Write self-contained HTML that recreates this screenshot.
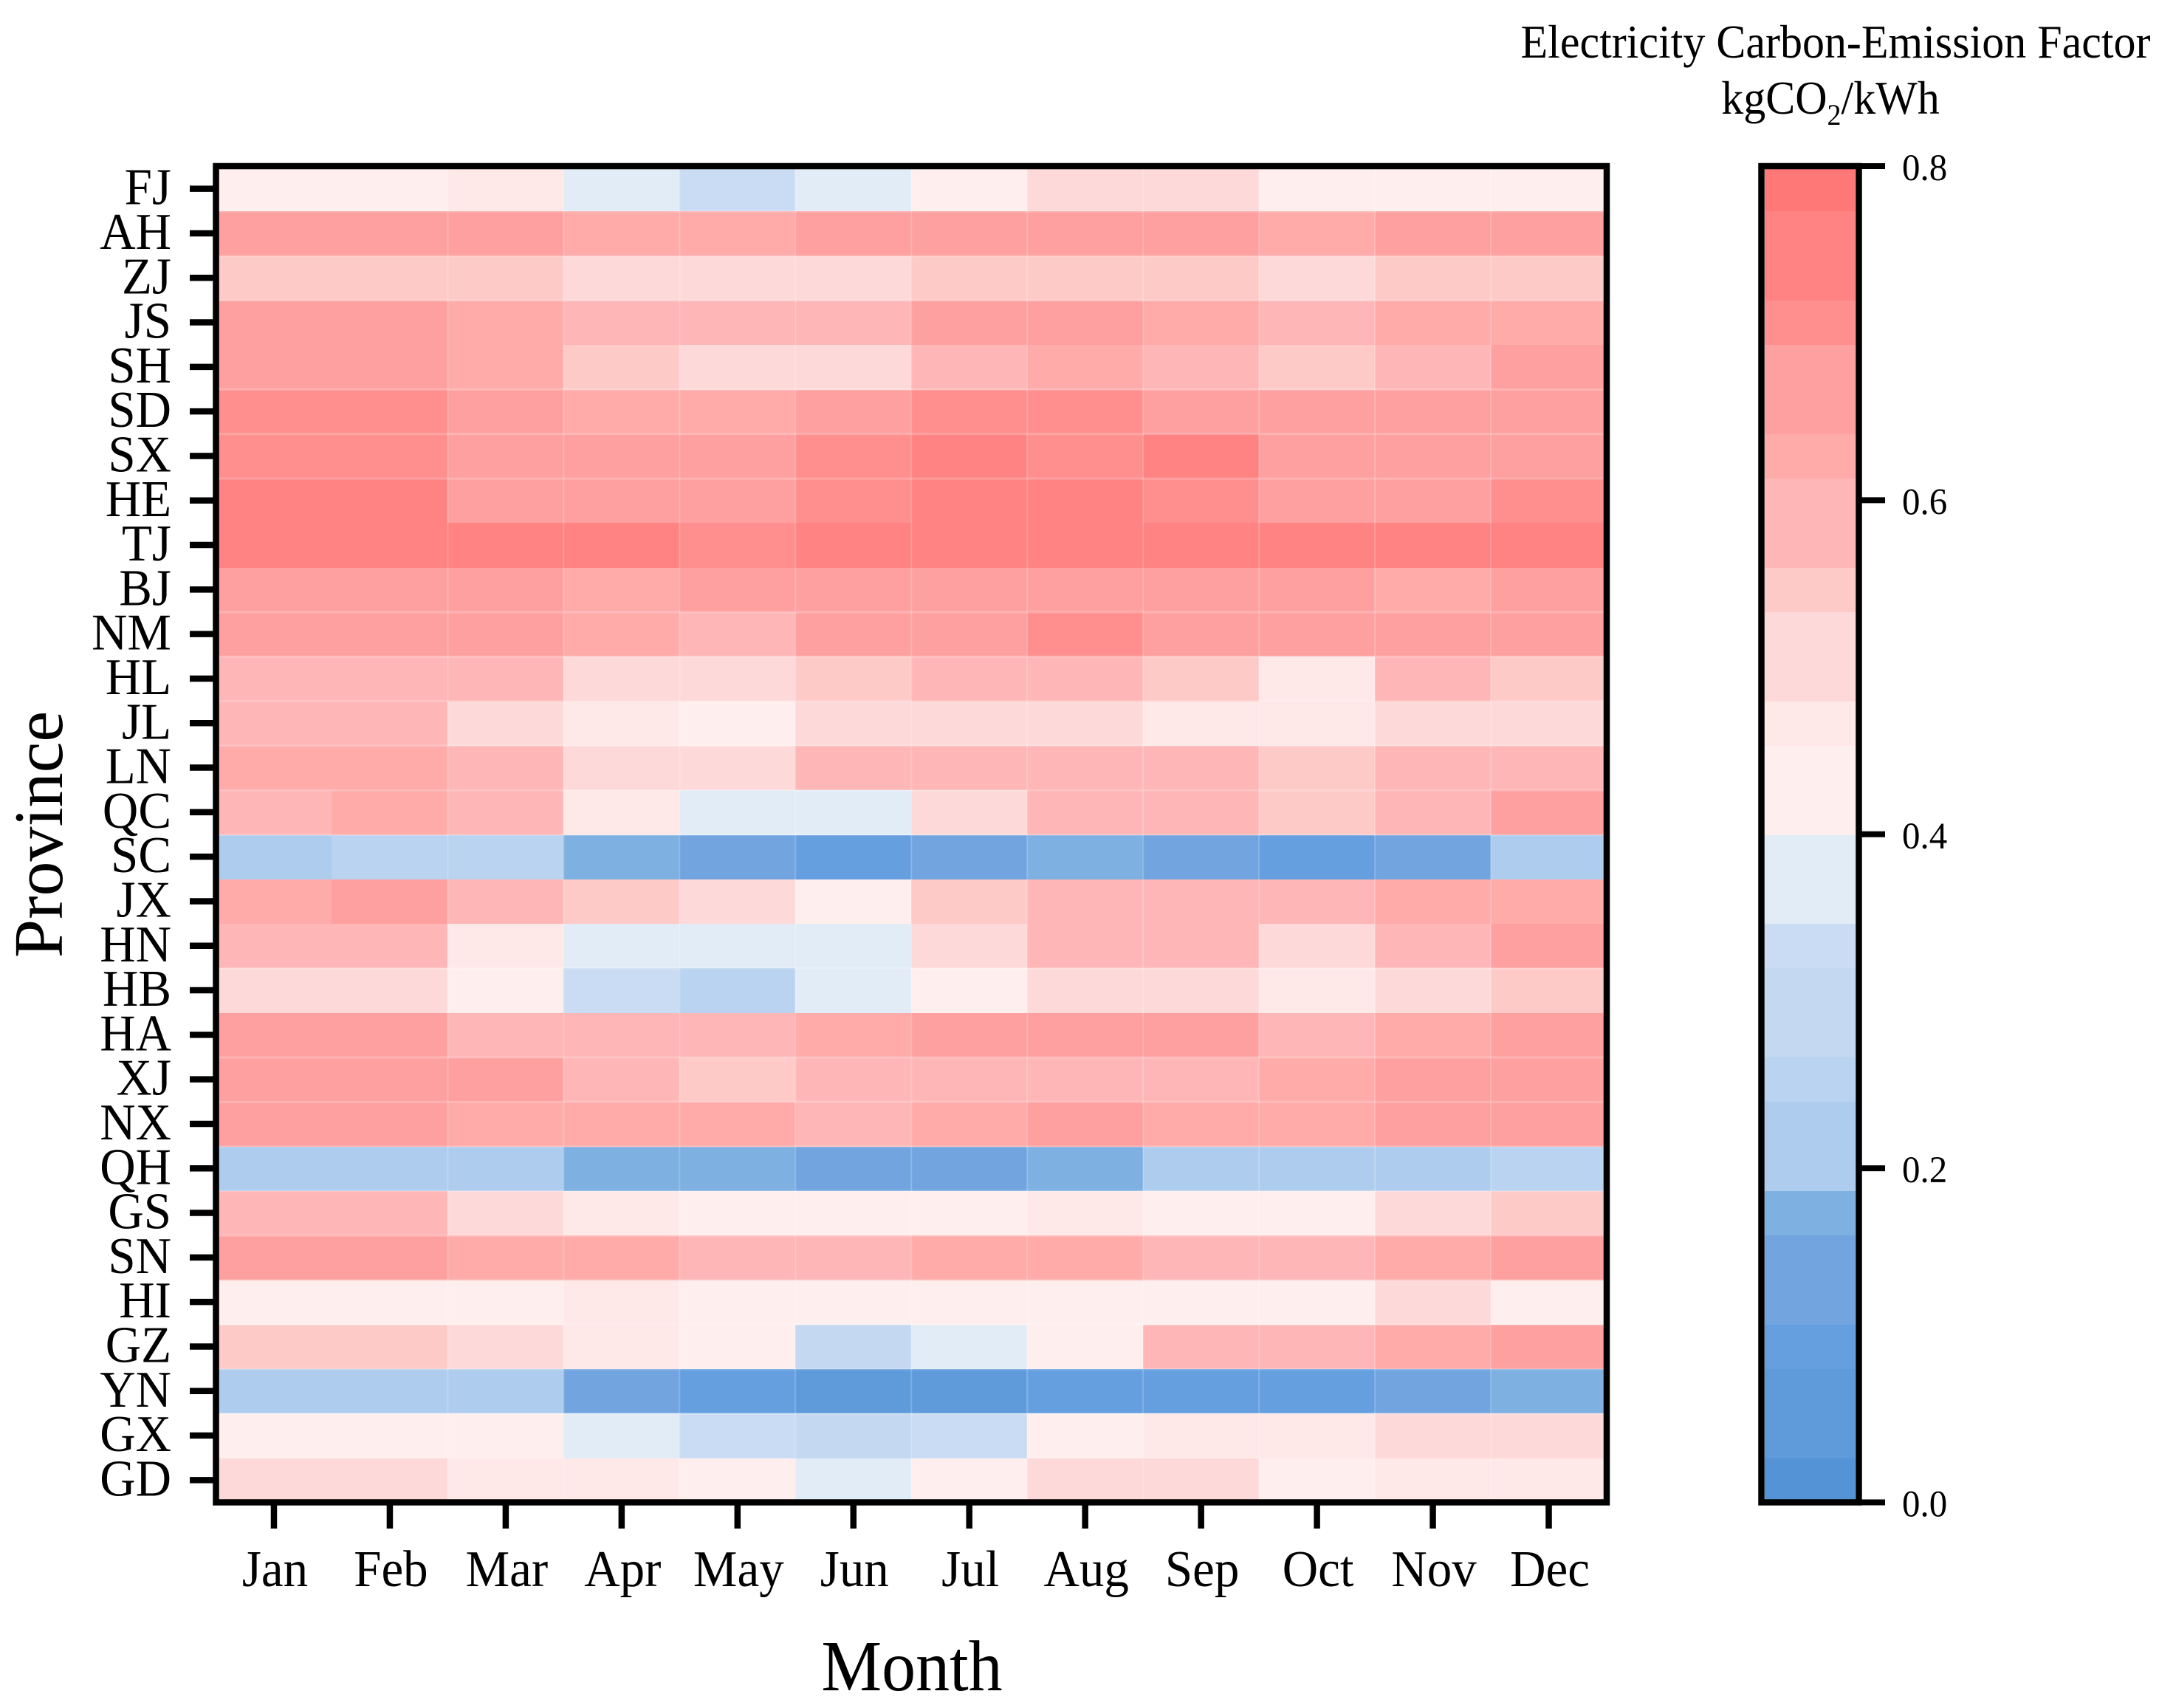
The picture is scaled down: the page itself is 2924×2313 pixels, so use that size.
<!DOCTYPE html>
<html lang="en">
<head>
<meta charset="utf-8">
<title>Electricity Carbon-Emission Factor by Province and Month</title>
<style>
html,body{margin:0;padding:0;background:#fff;}
svg{display:block;}
text{font-family:"Liberation Serif","Times New Roman",serif;fill:#000;}
</style>
</head>
<body>
<svg id="chart" xmlns="http://www.w3.org/2000/svg" width="2924" height="2313" viewBox="0 0 2924 2313">
  <rect x="0" y="0" width="2924" height="2313" fill="#ffffff"/>
  <g id="cells" shape-rendering="crispEdges"></g>
  <g id="seams"></g>
  <rect x="292.5" y="225" width="1883.5" height="1809.5" fill="none" stroke="#000" stroke-width="8.5" stroke-linejoin="miter"/>
  <g id="yAxis"></g>
  <g id="xAxis"></g>
  <text transform="translate(1235 2289) scale(1 1.06)" font-size="92" text-anchor="middle">Month</text>
  <text transform="translate(84 1130) rotate(-90)" font-size="94" text-anchor="middle">Province</text>
  <g id="colorbar" shape-rendering="crispEdges"></g>
  <rect x="2385.5" y="225" width="132" height="1809.5" fill="none" stroke="#000" stroke-width="8.5"/>
  <g id="cbarTicks"></g>
  <text transform="translate(2486 78) scale(1 1.06)" font-size="60" text-anchor="middle">Electricity Carbon-Emission Factor</text>
  <text transform="translate(2479 154) scale(1 1.06)" font-size="60" text-anchor="middle">kgCO<tspan font-size="38" dy="14">2</tspan><tspan dy="-14">/kWh</tspan></text>
</svg>
<script>
const months = ["Jan","Feb","Mar","Apr","May","Jun","Jul","Aug","Sep","Oct","Nov","Dec"];
const provinces = ["FJ","AH","ZJ","JS","SH","SD","SX","HE","TJ","BJ","NM","HL","JL","LN","QC","SC","JX","HN","HB","HA","XJ","NX","QH","GS","SN","HI","GZ","YN","GX","GD"];
const colorbarTicks = ["0.0","0.2","0.4","0.6","0.8"];

const FJ = [.43,.43,.47,.37,.33,.37,.43,.51,.51,.43,.43,.43];
const AH = [.67,.67,.67,.63,.63,.67,.67,.67,.67,.63,.67,.67];
const ZJ = [.55,.55,.55,.51,.51,.51,.55,.55,.55,.51,.55,.55];
const JS = [.67,.67,.63,.59,.59,.59,.67,.67,.63,.59,.63,.63];
const SH = [.67,.67,.63,.55,.51,.51,.59,.63,.59,.55,.59,.67];
const SD = [.71,.71,.67,.63,.63,.67,.71,.71,.67,.67,.67,.67];
const SX = [.71,.71,.67,.67,.67,.71,.75,.71,.75,.67,.67,.67];
const HE = [.75,.75,.67,.67,.67,.71,.75,.75,.71,.67,.67,.71];
const TJ = [.75,.75,.75,.75,.71,.75,.75,.75,.75,.75,.75,.75];
const BJ = [.67,.67,.67,.63,.67,.67,.67,.67,.67,.67,.63,.67];
const NM = [.67,.67,.67,.63,.59,.67,.67,.71,.67,.67,.67,.67];
const HL = [.59,.59,.59,.51,.51,.55,.59,.59,.55,.47,.59,.55];
const JL = [.59,.59,.51,.47,.43,.51,.51,.51,.47,.47,.51,.51];
const LN = [.63,.63,.59,.51,.51,.59,.59,.59,.59,.55,.59,.59];
const QC = [.59,.63,.59,.47,.37,.37,.51,.59,.59,.55,.59,.67];
const SC = [.21,.25,.25,.17,.13,.09,.13,.17,.13,.09,.13,.21];
const JX = [.63,.67,.59,.55,.51,.43,.55,.59,.59,.59,.63,.63];
const HN = [.59,.59,.47,.37,.37,.37,.51,.59,.59,.51,.59,.67];
const HB = [.51,.51,.43,.33,.25,.37,.43,.51,.51,.47,.51,.55];
const HA = [.67,.67,.59,.59,.59,.63,.67,.67,.67,.59,.63,.67];
const XJ = [.67,.67,.67,.59,.55,.59,.59,.59,.59,.63,.67,.67];
const NX = [.67,.67,.63,.63,.63,.59,.63,.67,.63,.63,.67,.67];
const QH = [.21,.21,.21,.17,.17,.13,.13,.17,.21,.21,.21,.25];
const GS = [.59,.59,.51,.47,.43,.43,.43,.47,.43,.43,.51,.55];
const SN = [.67,.67,.63,.63,.59,.59,.63,.63,.59,.59,.63,.67];
const HI = [.43,.43,.43,.47,.43,.43,.43,.43,.43,.43,.51,.43];
const GZ = [.55,.55,.51,.47,.43,.29,.37,.43,.59,.59,.63,.67];
const YN = [.21,.21,.21,.13,.09,.05,.05,.09,.09,.09,.13,.17];
const GX = [.43,.43,.43,.37,.33,.29,.33,.43,.47,.47,.51,.51];
const GD = [.51,.51,.47,.47,.43,.37,.43,.51,.51,.43,.47,.47];
const emissionRows = [FJ,AH,ZJ,JS,SH,SD,SX,HE,TJ,BJ,NM,HL,JL,LN,QC,SC,JX,HN,HB,HA,XJ,NX,QH,GS,SN,HI,GZ,YN,GX,GD];

const legendMax = 0.8;
const legendSteps = 30;
const bandStepCounts = [1,3,4,6,7,9,10,12,13,15,17,18,20,21,23,24,26,27,29,30];
const bandColors = ["#5493d6","#5f9bdb","#659fdf","#72a5e0","#7eb0e2","#aecdee","#b9d3f0","#c4d8f1","#cadcf3","#e2ecf6","#feefee","#fee8e8","#fed9d9","#fecac8","#feb6b6","#feabaa","#fea0a0","#fe8f8e","#fe8382","#fe7878"];
const seamAfterRow = [0,1,2,4,5,6,9,10,11,12,13,14,17,19,20,21,22,23,24,25,26,27];

const NS = "http://www.w3.org/2000/svg";
const plot = {left:292.5, right:2176, top:226, bottom:2035};
const bar = {left:2390, right:2513};
const colW = (plot.right - plot.left) / months.length;
const rowH = (plot.bottom - plot.top) / provinces.length;
const xScale = i => plot.left + i * colW;
const yScale = i => plot.top + i * rowH;
const legendY = v => plot.bottom - (v / legendMax) * (plot.bottom - plot.top);
const bandUpper = k => bandStepCounts[k] * legendMax / legendSteps;
function colorFor(v){
  for (let k = 0; k < bandColors.length; k++) { if (v <= bandUpper(k)) return bandColors[k]; }
  return bandColors[bandColors.length - 1];
}
function make(tag, attrs, parent){
  const el = document.createElementNS(NS, tag);
  for (const key in attrs) el.setAttribute(key, attrs[key]);
  parent.appendChild(el);
  return el;
}

const cellsG = document.getElementById("cells");
const seamsG = document.getElementById("seams");
const yAxisG = document.getElementById("yAxis");
const xAxisG = document.getElementById("xAxis");
const cbarG = document.getElementById("colorbar");
const cbarTicksG = document.getElementById("cbarTicks");

emissionRows.forEach((row, r) => {
  row.forEach((value, c) => {
    const x0 = Math.round(xScale(c)), x1 = Math.round(xScale(c + 1));
    const y0 = Math.round(yScale(r)), y1 = Math.round(yScale(r + 1));
    const cell = make("rect", {x:x0, y:y0, width:x1 - x0, height:y1 - y0, fill:colorFor(value)}, cellsG);
    
    
  });
});

for (let c = 2; c < months.length; c++) {
  const seam = make("line", {x1:xScale(c), x2:xScale(c), y1:plot.top, y2:plot.bottom, stroke:"#fff", "stroke-opacity":0.2, "stroke-width":2}, seamsG);
  
  
}
seamAfterRow.forEach(r => {
  const seam = make("line", {x1:plot.left, x2:plot.right, y1:yScale(r + 1), y2:yScale(r + 1), stroke:"#fff", "stroke-opacity":0.2, "stroke-width":3}, seamsG);
  
  
});

provinces.forEach((name, r) => {
  const yc = yScale(r + 0.5) - 0.5;
  const tick = make("line", {x1:257, x2:290, y1:yc, y2:yc, stroke:"#000", "stroke-width":8.5}, yAxisG);
  
  
  const label = make("text", {transform:"translate(232 " + (yc + 21) + ") scale(1 1.05)", "font-size":67, "text-anchor":"end"}, yAxisG);
  label.textContent = name;
  
  
});

months.forEach((name, c) => {
  const xc = xScale(c + 0.5);
  const tick = make("line", {x1:xc, x2:xc, y1:2037, y2:2070, stroke:"#000", "stroke-width":8.5}, xAxisG);
  
  
  const label = make("text", {transform:"translate(" + (xc + 1.5) + " 2148) scale(1 1.05)", "font-size":67, "text-anchor":"middle"}, xAxisG);
  label.textContent = name;
  
  
});

bandColors.forEach((color, k) => {
  const lower = k === 0 ? 0 : bandUpper(k - 1);
  const y0 = Math.round(legendY(bandUpper(k))), y1 = Math.round(legendY(lower));
  const band = make("rect", {x:bar.left, y:y0, width:bar.right - bar.left, height:y1 - y0, fill:color}, cbarG);
  
  
});

colorbarTicks.forEach(text => {
  const yc = 2034.5 - (parseFloat(text) / legendMax) * 1809.5;
  const tick = make("line", {x1:2520, x2:2553, y1:yc, y2:yc, stroke:"#000", "stroke-width":8}, cbarTicksG);
  
  
  const label = make("text", {transform:"translate(2576 " + (yc + 19) + ") scale(1 1.04)", "font-size":49}, cbarTicksG);
  label.textContent = text;
  
  
});
</script>
</body>
</html>
